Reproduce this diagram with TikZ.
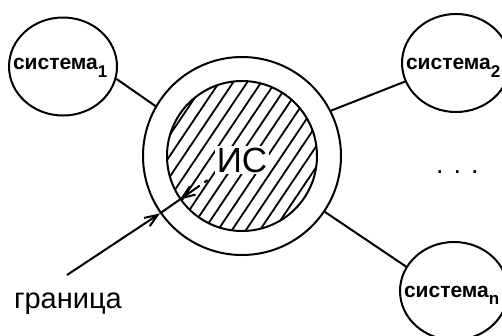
\documentclass[tikz,border=0pt]{standalone}
\usepackage{fontspec}
\setmainfont{Liberation Sans}
\usetikzlibrary{shapes.geometric,arrows.meta,calc}
% lowered index after a system name
\newcommand\subidx[1]{\raisebox{-7.5pt}{\fontsize{17}{17}\selectfont #1}}
\begin{document}
\begin{tikzpicture}[x=1pt,y=-1pt,line width=2pt,
  sysbox/.style={draw, ellipse, minimum width=108pt, minimum height=98pt, inner sep=0pt},
  systext/.style={font=\bfseries\fontsize{21}{24}\selectfont, inner sep=0pt, anchor=base west},
  ring/.style={draw, circle, inner sep=0pt},
  barb/.style={-{Straight Barb[length=13pt,width=10pt]}},
  hatch/.style={line width=1.8pt},
]
\useasboundingbox (0,0) rectangle (502,335);

% information system with its boundary ring
\node[ring, minimum size=198pt] (outer) at (242,156) {};
\node[ring, minimum size=150pt] (inner) at (242,156) {};
\begin{scope}
  \clip (242,156) circle[radius=75pt];
  \foreach \k in {-10,...,12}
    \draw[hatch] ({195+14*\k-90},{160+134}) -- ({195+14*\k+90},{160-134});
\end{scope}
\node[fill=white, inner sep=2pt, font=\fontsize{35}{36}\selectfont, anchor=base] (is) at (242,172) {ИС};

% external systems
\node[sysbox] (s1) at (63,66.5) {};
\node[systext] (s1t) at (12,69.5) {система\subidx{1}};
\node[sysbox] (s2) at (456,63) {};
\node[systext] (s2t) at (405,69.5) {система\subidx{2}};
\node[sysbox] (sn) at (454,291) {};
\node[systext] (snt) at (403,297) {система\subidx{n}};
\node[font=\fontsize{27}{28}\selectfont, anchor=base west, inner sep=0pt] (dots) at (435,173.5) {. . .};

% links to the system
\draw (s1.-13.5) -- (outer.150);
\draw (s2.200.7) -- (outer.27);
\draw (sn.153.4) -- (outer.-34.5);

% boundary pointer
\coordinate (tail) at (67,275);
\coordinate (inarrow) at ($(inner.center)!0.553!(inner.215)$);
\draw[barb] (tail) -- (outer.215);
\draw (outer.215) -- (inner.215);
\draw[barb, dash pattern=on 4pt off 5.5pt on 40pt] (inarrow) -- (inner.215);
\node[font=\fontsize{29}{30}\selectfont, anchor=base west, inner sep=0pt] (gr) at (13,308) {граница};
\end{tikzpicture}
\end{document}
